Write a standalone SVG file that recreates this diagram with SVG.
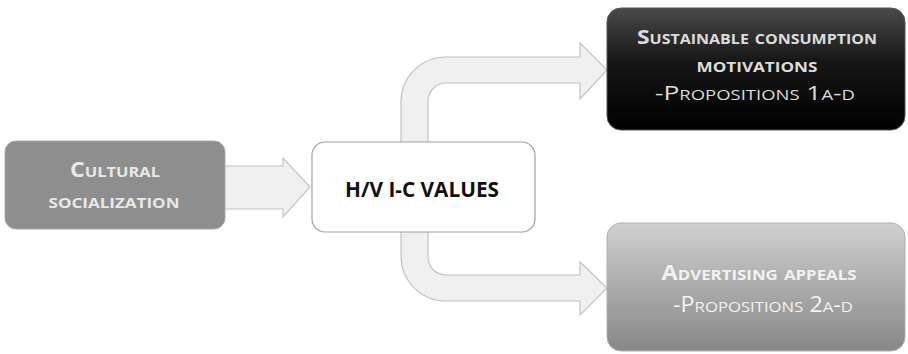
<svg xmlns="http://www.w3.org/2000/svg" width="908" height="354" viewBox="0 0 908 354">
<defs>
<linearGradient id="gBlack" x1="0" y1="0" x2="0" y2="1">
<stop offset="0" stop-color="#4a4a4a"/>
<stop offset="0.45" stop-color="#151515"/>
<stop offset="1" stop-color="#000000"/>
</linearGradient>
<linearGradient id="gGray" x1="0" y1="0" x2="0" y2="1">
<stop offset="0" stop-color="#d0d0d0"/>
<stop offset="1" stop-color="#878787"/>
</linearGradient>
<style>
.arrow{fill:#f0f0f0;stroke:#c4c4c4;stroke-width:1.2}
.t{font-family:"Open Sans","Liberation Sans",sans-serif;font-variant:small-caps;text-anchor:middle}
.b{font-weight:bold}
</style>
</defs>
<rect width="908" height="354" fill="#ffffff"/>
<g id="connectors">
<path class="arrow" d="M220,166 H283 V158 L310,187 L283,217 V209 H220 Z"/>
<path class="arrow" d="M401,150 V102 A45,45 0 0 1 446,57 H580 V43 L607,70 L580,99 V83 H446 A18,18 0 0 0 428,101 V150 Z"/>
<path class="arrow" d="M401,225 V256 A45,45 0 0 0 446,301 H580 V315 L607,288 L580,262 V275 H446 A18,18 0 0 1 428,257 V225 Z"/>
</g>
<g id="cultural">
<rect x="5" y="141" width="220" height="88" rx="11" fill="#8e8e8e" stroke="#a8a8a8" stroke-width="1"/>
<text class="t b" x="115" y="177" font-size="21" fill="#e8e8e8" textLength="90" lengthAdjust="spacingAndGlyphs">Cultural</text>
<text class="t b" x="114" y="208" font-size="21" fill="#e8e8e8" textLength="131" lengthAdjust="spacingAndGlyphs">socialization</text>
</g>
<g id="values">
<rect x="312" y="142" width="223" height="90" rx="13" fill="#ffffff" stroke="#a0a0a0" stroke-width="1.2"/>
<text x="422" y="197" font-family="'Open Sans','Liberation Sans',sans-serif" font-weight="bold" font-size="22" text-anchor="middle" fill="#111" textLength="154" lengthAdjust="spacingAndGlyphs">H/V I-C VALUES</text>
</g>
<g id="motivations">
<rect x="607" y="8" width="298" height="122" rx="14" fill="url(#gBlack)" stroke="#555" stroke-width="1"/>
<text class="t b" x="757" y="44" font-size="20" fill="#dcdcdc" textLength="240" lengthAdjust="spacingAndGlyphs">Sustainable consumption</text>
<text class="t b" x="757" y="72" font-size="20" fill="#dcdcdc" textLength="121" lengthAdjust="spacingAndGlyphs">motivations</text>
<text class="t" x="755" y="100" font-size="20" fill="#dcdcdc" textLength="200" lengthAdjust="spacingAndGlyphs">-Propositions 1a-d</text>
</g>
<g id="advertising">
<rect x="607" y="223" width="298" height="128" rx="14" fill="url(#gGray)" stroke="#b0b0b0" stroke-width="1"/>
<text class="t b" x="759" y="280" font-size="21" fill="#f2f2f2" textLength="195" lengthAdjust="spacingAndGlyphs">Advertising appeals</text>
<text class="t" x="763" y="312" font-size="21" fill="#f2f2f2" textLength="180" lengthAdjust="spacingAndGlyphs">-Propositions 2a-d</text>
</g>
</svg>
